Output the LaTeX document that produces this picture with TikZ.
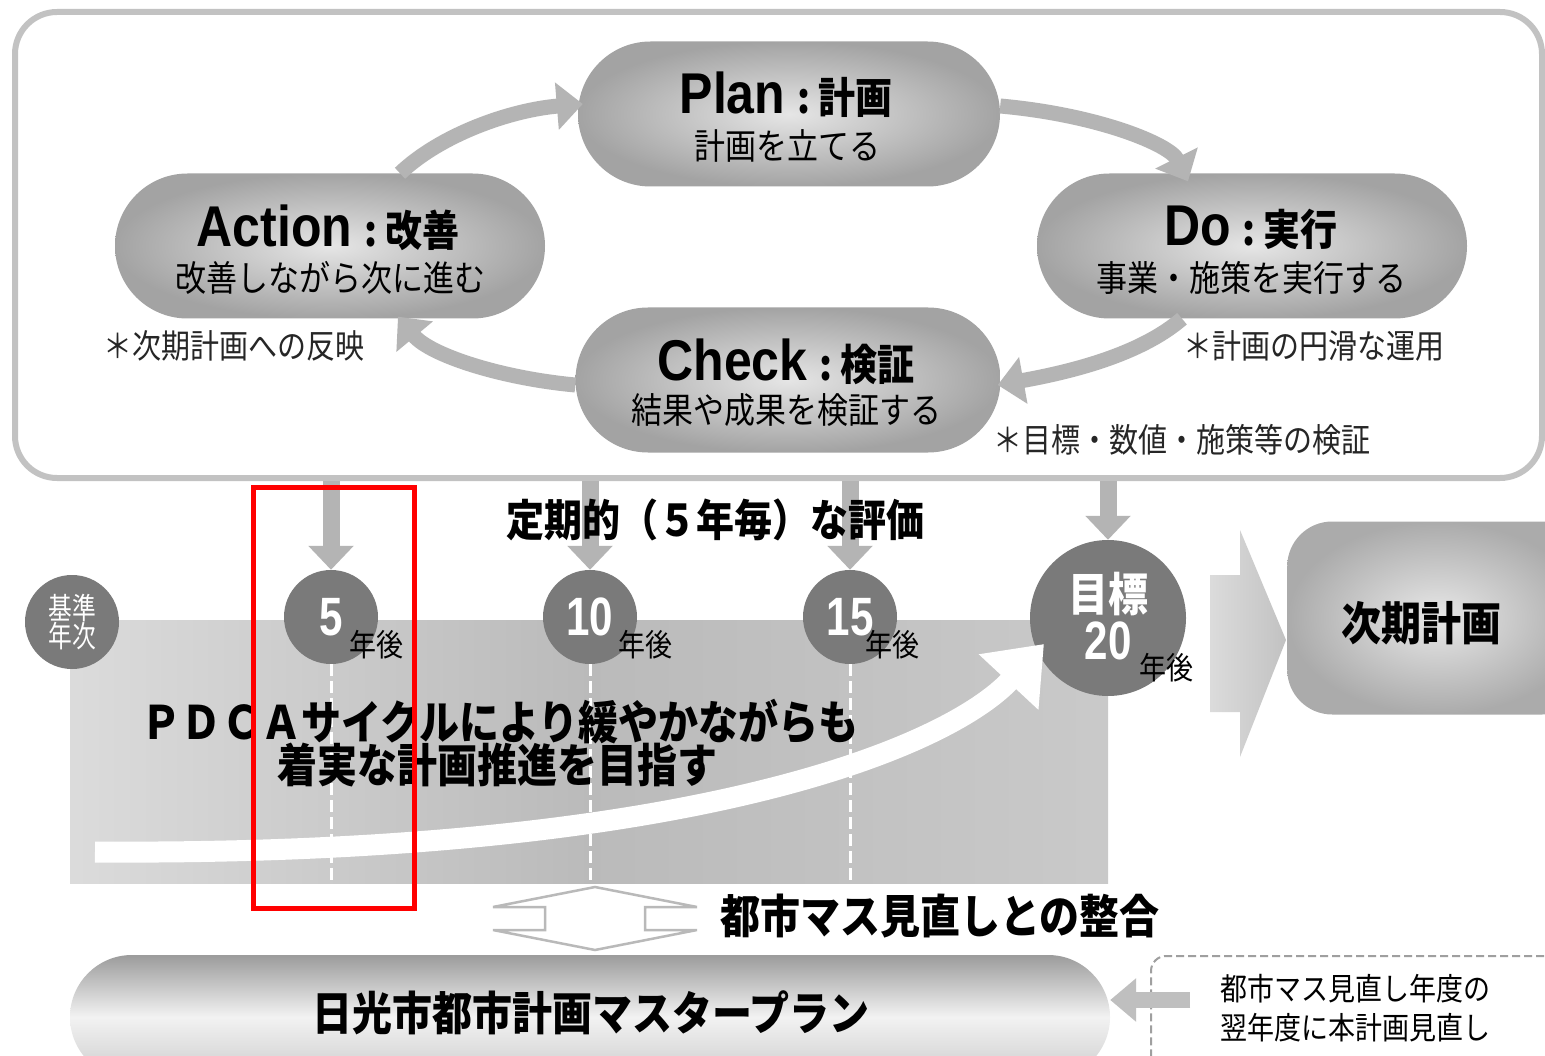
\documentclass[tikz,border=0pt]{standalone}
\usepackage{fontspec}
\setmainfont{Noto Sans CJK JP}
\newfontfamily\arialf{Liberation Sans}
\usetikzlibrary{arrows.meta,shapes.misc,calc}
\definecolor{circ}{HTML}{7A7A7A}
\definecolor{arr}{HTML}{B4B4B4}
\definecolor{framec}{HTML}{C2C2C2}
\newcommand{\st}[1]{\scalebox{1}[1.15]{#1}}
\newcommand{\fs}[1]{\fontsize{#1}{#1}\selectfont}
\newcommand{\dig}[1]{\scalebox{0.78}[1]{\arialf\bfseries\fs{54}#1}}
\begin{document}
\begin{tikzpicture}[x=1pt,y=-1pt,
 pill/.style={rounded rectangle, minimum width=428pt, minimum height=145pt, inner color=gray!20, outer color=gray!72, inner sep=0pt},
 pdca/.style={line width=15pt, draw=arr, -{Triangle[length=26pt,width=46pt]}},
 downarr/.style={line width=17pt, draw=arr, -{Triangle[length=24pt,width=44pt]}},
 yearc/.style={circle, fill=circ, minimum size=94pt, inner sep=0pt, text=white},
 ttl/.style={inner sep=0pt, text=black},
 sub/.style={inner sep=0pt, font=\fs{31}},
 note/.style={inner sep=0pt, font=\fs{29}, text=black!85},
 nen/.style={inner sep=0pt, font=\fs{27}},
 big/.style={inner sep=0pt, font=\bfseries\fs{40}}]
\clip (0,0) rectangle (1545,1056);
\fill[white] (0,0) rectangle (1545,1056);

% outer frame
\node[draw=framec, line width=6pt, rounded corners=42pt, minimum width=1527pt, minimum height=466pt, inner sep=0pt] (outer) at (778.5,245) {};

% PDCA pills
\node[pill, minimum width=422pt] (pl) at (789,114) {};
\node[pill, minimum width=430pt] (ac) at (330,246) {};
\node[pill, minimum width=430pt] (do) at (1252,246) {};
\node[pill, minimum width=425pt] (ch) at (788,380) {};

% cycle arrows
\draw[pdca] ($(ac.north)+(70,0)$) .. controls (440,135) and (510,110) .. ($(pl.west)+(5,-10)$);
\draw[pdca] ($(pl.east)+(0,-8)$) .. controls (1100,115) and (1170,145) .. ($(do.north)+(-64,8)$);
\draw[pdca] ($(do.south)+(-70,0)$) .. controls (1140,355) and (1070,372) .. ($(ch.east)+(-3,5)$);
\draw[pdca] ($(ch.west)+(0,5)$) .. controls (500,378) and (430,355) .. ($(ac.south)+(68,-2)$);

% pill texts
\node[ttl] (plt) at (786,95) {\st{\arialf\bfseries\fs{50}Plan}\hspace{12pt}\st{\bfseries\fs{37}:\hspace{8pt}計画}};
\node[sub] (pls) at (787,146) {\st{計画を立てる}};
\node[ttl] (act) at (328,228) {\st{\arialf\bfseries\fs{50}Action}\hspace{12pt}\st{\bfseries\fs{37}:\hspace{8pt}改善}};
\node[sub] (acs) at (330,278) {\st{改善しながら次に進む}};
\node[ttl] (dot) at (1251,228) {\st{\arialf\bfseries\fs{50}Do}\hspace{12pt}\st{\bfseries\fs{37}:\hspace{8pt}実行}};
\node[sub] (dos) at (1251,278) {\st{事業・施策を実行する}};
\node[ttl] (cht) at (786,362) {\st{\arialf\bfseries\fs{50}Check}\hspace{12pt}\st{\bfseries\fs{37}:\hspace{8pt}検証}};
\node[sub] (chs) at (786,410) {\st{結果や成果を検証する}};

% notes
\node[note, anchor=west] (n1) at (103,346) {\st{＊次期計画への反映}};
\node[note, anchor=west] (n2) at (1183,346) {\st{＊計画の円滑な運用}};
\node[note, anchor=west] (n3) at (993,440) {\st{＊目標・数値・施策等の検証}};

% lower band
\node[inner sep=0pt, minimum width=1038pt, minimum height=263pt, left color=gray!28, right color=gray!42, middle color=gray!54] (bg) at (589,751.5) {};

% year circles
\node[yearc] (c0) at (72,622) {};
\node[yearc] (c5) at (331,617) {};
\node[yearc] (c10) at (590,617) {};
\node[yearc] (c15) at (850,617) {};
\node[yearc, minimum size=156pt] (c20) at (1108,618) {};

\node[inner sep=0pt, text=white, align=center, font=\fontsize{25}{27}\selectfont] (c0t) at (c0) {\scalebox{0.95}[1.2]{基準}\\[-1pt]\scalebox{0.95}[1.2]{年次}};
\node[inner sep=0pt] (c5t) at (c5) {\textcolor{white}{\dig{5}}};
\node[inner sep=0pt] (c10t) at (c10) {\textcolor{white}{\dig{10}}};
\node[inner sep=0pt] (c15t) at (c15) {\textcolor{white}{\dig{15}}};
\node[inner sep=0pt, text=white, font=\bfseries\fs{40}] (c20a) at (1108,594) {\st{目標}};
\node[inner sep=0pt] (c20b) at (1108,641) {\textcolor{white}{\dig{20}}};

% down arrows
\draw[downarr] (outer.south -| c5) -- (c5.north);
\draw[downarr] (outer.south -| c10) -- (c10.north);
\draw[downarr] (outer.south -| c15) -- (c15.north);
\draw[downarr] (outer.south -| c20) -- (c20.north);

% dashed white lines
\draw[white, line width=3pt, dash pattern=on 12pt off 5pt] (c5.south) -- (c5.south |- bg.south);
\draw[white, line width=3pt, dash pattern=on 12pt off 5pt] (c10.south) -- (c10.south |- bg.south);
\draw[white, line width=3pt, dash pattern=on 12pt off 5pt] (c15.south) -- (c15.south |- bg.south);

% white progress arrow
\coordinate (ws) at (95,852);
\coordinate (we) at (1044,644);
\draw[white, line width=21pt, -{Triangle[length=52pt,width=78pt]}] (ws) .. controls (700,856) and (950,745) .. (we);

% year labels
\node[nen] (y5) at (376,645) {\st{年後}};
\node[nen] (y10) at (645,645) {\st{年後}};
\node[nen] (y15) at (892,645) {\st{年後}};
\node[nen] (y20) at (1166,668) {\st{年後}};

% texts in band
\node[big, font=\bfseries\fs{38}] (eval) at (715,520) {\st{定期的（５年毎）な評価}};
\node[big] (p1) at (500,722) {\st{ＰＤＣＡサイクルにより緩やかながらも}};
\node[big] (p2) at (497,765) {\st{着実な計画推進を目指す}};

% arrow to next plan
\path[left color=gray!28, right color=gray!48] (1210,575) -- (1240,575) -- (1240,530) -- (1286,640) -- (1240,757) -- (1240,712) -- (1210,712) -- cycle;
\node[rectangle, rounded corners=45pt, minimum width=300pt, minimum height=193pt, inner color=gray!18, outer color=gray!66, anchor=west, inner sep=0pt] (nx) at (1287,618) {};
\node[big] (nxt) at (1421,623) {\st{次期計画}};

% double arrow
\draw[gray!55, line width=2.5pt, fill=white, line join=miter] (595,887) -- (697,907) -- (645,907) -- (645,930) -- (697,930) -- (595,950) -- (493,930) -- (545,930) -- (545,907) -- (493,907) -- cycle;
\node[big] (sync) at (940,916) {\st{都市マス見直しとの整合}};

% master plan pill
\node[rounded rectangle, minimum width=1040pt, minimum height=124pt, top color=gray!78, bottom color=gray!40, middle color=gray!10, inner sep=0pt] (mp) at (590,1017) {};
\node[big] (mpt) at (591,1013) {\st{日光市都市計画マスタープラン}};

% dashed box
\node[draw=gray!75, dash pattern=on 8pt off 4pt, line width=2pt, rounded corners=15pt, minimum width=420pt, minimum height=130pt, anchor=north west, inner sep=0pt] (db) at (1150,955) {};
\node[inner sep=0pt, align=left, font=\fontsize{27}{39}\selectfont, anchor=west] (dbt) at (1220,1008) {\st{都市マス見直し年度の}\\\st{翌年度に本計画見直し}};
\coordinate (la) at (1190,1000);
\draw[line width=16pt, draw=gray!50, -{Triangle[length=26pt,width=42pt]}] (la) -- (la -| mp.east);

% highlight
\node[draw=red, line width=5pt, minimum width=161pt, minimum height=421pt, inner sep=0pt] (hl) at (333.5,697.5) {};
\end{tikzpicture}
\end{document}
